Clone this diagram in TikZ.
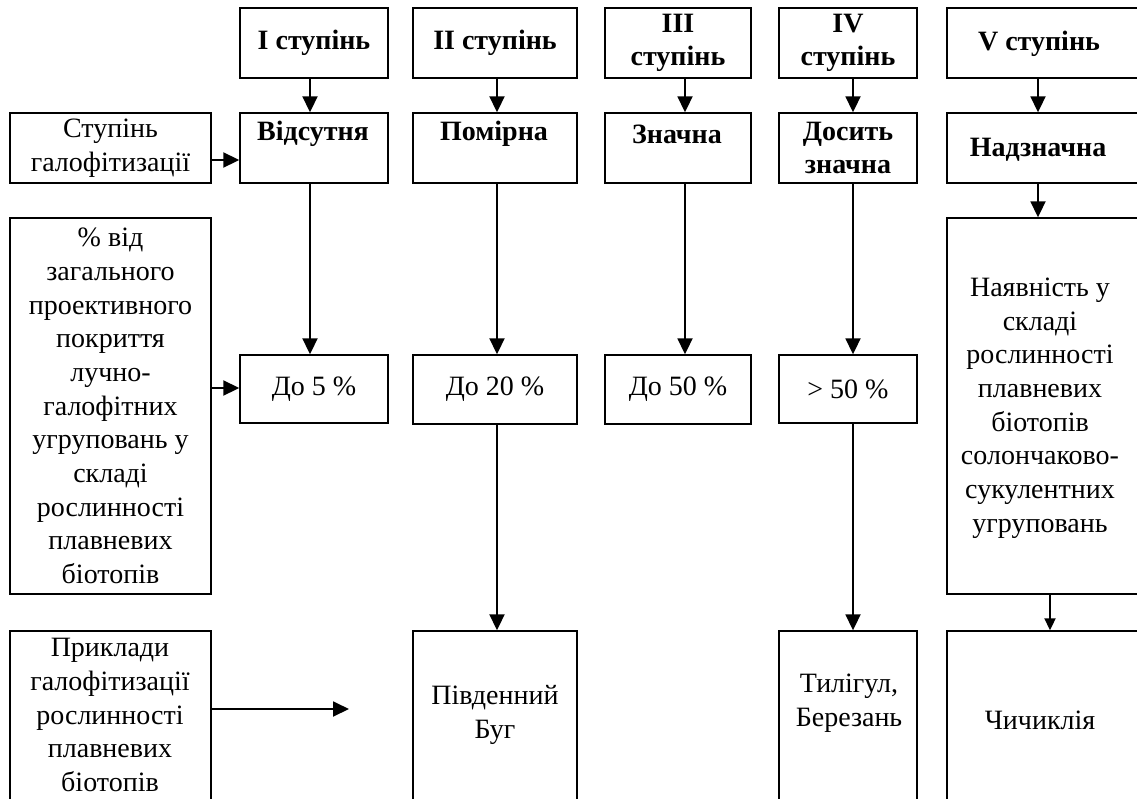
\documentclass[tikz,border=0pt]{standalone}
\usepackage{fontspec}
\setmainfont{Liberation Serif}
\usetikzlibrary{arrows.meta}
\tikzset{
  box/.style={draw, line width=1.4pt, inner sep=0pt, align=center, font=\fontsize{28}{33.7}\selectfont},
  lbl/.style={inner sep=0pt, align=center, font=\fontsize{28}{33.7}\selectfont},
  bld/.style={font=\fontsize{28}{33.7}\selectfont\bfseries},
  arr/.style={line width=1.9pt, -{Triangle[width=15pt,length=16pt]}},
  arrs/.style={line width=1.9pt, -{Triangle[width=11pt,length=12pt]}},
}
\newcommand\mkbox[7][]{\node[box,#1, minimum width={(#5-#3)*1pt}, minimum height={(#6-#4)*1pt}] (#2) at ({(#3+#5)/2},{(#4+#6)/2}) {#7};}
\begin{document}
\begin{tikzpicture}[x=1pt,y=-1pt]
\useasboundingbox (0,0) rectangle (1137,798);
\clip (0,0) rectangle (1137,798);
% row 1
\mkbox[bld]{A1}{240}{8}{388}{78}{I ступінь}
\mkbox[bld]{A2}{413}{8}{577}{78}{II ступінь}
\mkbox[bld]{A3}{605}{8}{751}{78}{III\\ступінь}
\mkbox[bld]{A4}{779}{8}{917}{78}{IV\\ступінь}
\mkbox{A5}{947}{8}{1142}{78}{}
\node[lbl,bld] (tA5) at (1039,44) {V ступінь};
% row 2
\mkbox{L1}{10}{113}{211}{183}{Ступінь\\галофітизації}
\mkbox{B1}{240}{113}{388}{183}{}
\node[lbl,bld] (tB1) at (313,134) {Відсутня};
\mkbox{B2}{413}{113}{577}{183}{}
\node[lbl,bld] (tB2) at (494,134) {Помірна};
\mkbox{B3}{605}{113}{751}{183}{}
\node[lbl,bld] (tB3) at (677,134) {Значна};
\mkbox[bld]{B4}{779}{113}{917}{183}{Досить\\значна}
\mkbox{B5}{947}{113}{1142}{183}{}
\node[lbl,bld] (tB5) at (1038,150) {Надзначна};
% row 3
\mkbox{L2}{10}{218}{211}{594}{\% від\\загального\\проективного\\покриття\\лучно-\\галофітних\\угруповань у\\складі\\рослинності\\плавневих\\біотопів}
\mkbox{C1}{240}{355}{388}{423}{До 5 \%}
\mkbox{C2}{413}{355}{577}{424}{До 20 \%}
\mkbox{C3}{605}{355}{751}{424}{До 50 \%}
\mkbox{C4}{779}{355}{917}{423}{> 50 \%}
\mkbox{C5}{947}{218}{1142}{594}{}
\node[lbl] (tC5) at (1040,408) {Наявність у\\складі\\рослинності\\плавневих\\біотопів\\солончаково-\\сукулентних\\угруповань};
% row 4
\mkbox{L3}{10}{631}{211}{820}{}
\node[lbl] (tL3) at (110,715) {Приклади\\галофітизації\\рослинності\\плавневих\\біотопів};
\mkbox{D2}{413}{631}{577}{820}{}
\node[lbl] (tD2) at (495,715) {Південний\\Буг};
\mkbox{D4}{779}{631}{917}{820}{}
\node[lbl] (tD4) at (849,703) {Тилігул,\\Березань};
\mkbox{D5}{947}{631}{1142}{820}{}
\node[lbl] (tD5) at (1040,720) {Чичиклія};
% helper coordinates
\coordinate (x1) at (310,0);
\coordinate (x2) at (497,0);
\coordinate (x3) at (685,0);
\coordinate (x4) at (853,0);
\coordinate (x5) at (1038,0);
\coordinate (x5b) at (1050,0);
\coordinate (ya) at (0,160);
\coordinate (yb) at (0,388);
\coordinate (e3) at (349,709);
% arrows
\draw[arr] (A1.south -| x1) -- (B1.north -| x1);
\draw[arr] (A2.south -| x2) -- (B2.north -| x2);
\draw[arr] (A3.south -| x3) -- (B3.north -| x3);
\draw[arr] (A4.south -| x4) -- (B4.north -| x4);
\draw[arr] (A5.south -| x5) -- (B5.north -| x5);
\draw[arr] (L1.east |- ya) -- (B1.west |- ya);
\draw[arr] (B1.south -| x1) -- (C1.north -| x1);
\draw[arr] (B2.south -| x2) -- (C2.north -| x2);
\draw[arr] (B3.south -| x3) -- (C3.north -| x3);
\draw[arr] (B4.south -| x4) -- (C4.north -| x4);
\draw[arr] (B5.south -| x5) -- (C5.north -| x5);
\draw[arr] (L2.east |- yb) -- (C1.west |- yb);
\draw[arr] (C2.south -| x2) -- (D2.north -| x2);
\draw[arr] (C4.south -| x4) -- (D4.north -| x4);
\draw[arrs] (C5.south -| x5b) -- (D5.north -| x5b);
\draw[arr] (L3.east |- e3) -- (e3);
\end{tikzpicture}
\end{document}
